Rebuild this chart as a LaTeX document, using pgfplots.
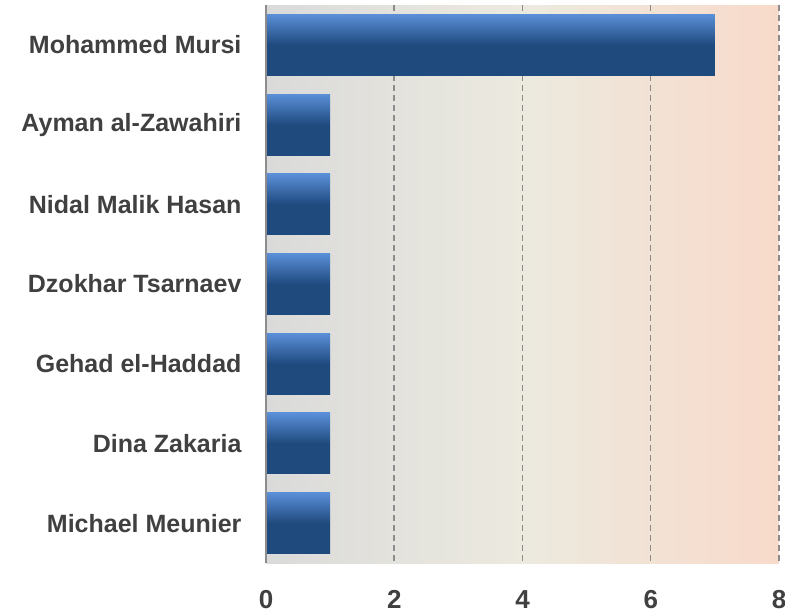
\documentclass[border=0pt]{standalone}
\usepackage{pgfplots}
\pgfplotsset{compat=1.18}
\usepackage{fontspec}
\setmainfont{Liberation Sans}
\definecolor{txt}{HTML}{404040}
\definecolor{bgl}{HTML}{DADADA}
\definecolor{bgm}{HTML}{ECEADF}
\definecolor{bgr}{HTML}{F8DACA}
\definecolor{bartop}{HTML}{5A8FD8}
\definecolor{barmid}{HTML}{1F4A7E}
\definecolor{gridc}{HTML}{8C8C8C}
\begin{document}
\begin{tikzpicture}
\useasboundingbox (-266pt,-50pt) rectangle (519pt,563pt);
\begin{axis}[
  at={(0,0)}, anchor=south west,
  scale only axis, width=513pt, height=558pt,
  xbar, bar width=61pt, bar shift=0pt,
  xmin=0, xmax=8, ymin=-0.5, ymax=6.5,
  y dir=reverse,
  xtick={0,2,4,6,8},
  ytick={0,1,2,3,4,5,6},
  yticklabels={Mohammed Mursi, Ayman al-Zawahiri, Nidal Malik Hasan, Dzokhar Tsarnaev, Gehad el-Haddad, Dina Zakaria, Michael Meunier},
  axis background/.style={left color=bgl, right color=bgr, middle color=bgm},
  xmajorgrids, major grid style={gridc, line width=1.5pt, dash pattern=on 6pt off 4pt},
  axis line style={draw=none},
  axis y line*=left,
  axis x line*=bottom,
  major tick length=0pt,
  /pgf/number format/assume math mode=true,
  yticklabel style={font=\fontsize{25}{28}\selectfont\bfseries, text=txt, xshift=-21pt},
  xticklabel style={font=\fontsize{26}{28}\selectfont\bfseries, text=txt, yshift=-24pt},
  clip=false,
  barsty/.style={draw=none, top color=bartop, bottom color=barmid, middle color=barmid},
]
\addplot[barsty] coordinates {(7,0)};
\addplot[barsty] coordinates {(1,1)};
\addplot[barsty] coordinates {(1,2)};
\addplot[barsty] coordinates {(1,3)};
\addplot[barsty] coordinates {(1,4)};
\addplot[barsty] coordinates {(1,5)};
\addplot[barsty] coordinates {(1,6)};
\draw[gridc, line width=2pt] (axis cs:0,-0.5) -- (axis cs:0,6.5);
\end{axis}
\end{tikzpicture}
\end{document}
